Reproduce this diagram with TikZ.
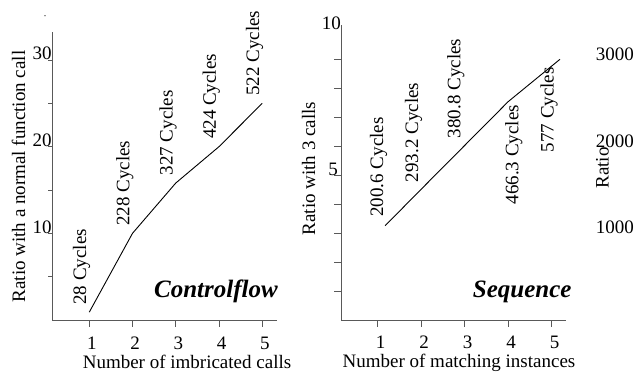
\documentclass[tikz,border=0pt]{standalone}
\usepackage{fontspec}
\setmainfont{Liberation Serif}
\usepackage{tikz}
\usetikzlibrary{positioning}
\definecolor{axisgray}{gray}{0.35}
\tikzstyle{axis} = [draw=axisgray, line width=0.8pt]
\tikzstyle{curve} = [draw, line width=0.9pt]
\tikzstyle{cyc} = [rotate=90, inner sep=0pt,
    font=\fontsize{19}{22}\selectfont]
\tikzstyle{numlbl} = [inner sep=0pt,
    font=\fontsize{19}{22}\selectfont]
\tikzstyle{plottitle} = [inner sep=0pt, anchor=base east,
    font=\fontsize{25}{30}\selectfont\bfseries\itshape]

\begin{document}
\begin{tikzpicture}[x=1pt, y=1pt]
    \useasboundingbox (0,0) rectangle (641,376);
    \fill (45,360.3) circle (0.6pt);

    % Controlflow plot
    \begin{scope}[shift={(46pt,56pt)}, x=43.25pt, y=8.667pt]
    \coordinate (lo) at (0.155,0);
    \coordinate (lp1) at (1,0.9);
    \coordinate (lp2) at (2,10);
    \coordinate (lp3) at (3,15.8);
    \coordinate (lp4) at (4,20);
    \coordinate (lp5) at (5,25);
    \path [axis] (0.155,33.2) -- (lo) -- (5.34,0);
    \foreach \n in {1,...,5}
        \path [axis] (\n,0) -- ++(0,-6.5pt);
    \foreach \v in {5,10,...,30}
        \path [axis] (0.155,\v) -- ++(-5pt,0);
    \foreach \n in {1,...,5}
        \node [numlbl, anchor=base] (lx\n) at ([shift={(2.7pt,-29pt)}]\n,0) {\n};
    \node [numlbl, anchor=base east] (ly10) at ([xshift=-1pt]0.155,10) {10};
    \node [numlbl, anchor=base east] (ly20) at ([xshift=-1pt]0.155,20) {20};
    \node [numlbl, anchor=base east] (ly30) at ([xshift=-1pt]0.155,30) {30};

    \path [curve] (lp1) -- (lp2) -- (lp3) -- (lp4) -- (lp5);
    \node [cyc, above right=7.5pt and 1.1pt of lp1] (lcyc1) {28 Cycles};
    \node [cyc, above right=7.5pt and 1.1pt of lp2] (lcyc2) {228 Cycles};
    \node [cyc, above right=7.5pt and 1.1pt of lp3] (lcyc3) {327 Cycles};
    \node [cyc, above right=7.5pt and 1.1pt of lp4] (lcyc4) {424 Cycles};
    \node [cyc, above right=7.5pt and 1.1pt of lp5] (lcyc5) {522 Cycles};
    \end{scope}
    \node [numlbl, anchor=base] (lblx1) at (187,8) {Number of imbricated calls};
    \node [numlbl, rotate=90, anchor=base] (lbly1) at (25,199.5) {Ratio with a normal function call};
    \node [plottitle] (ttl1) at (278,79) {Controlflow};

    % Sequence plot
    \begin{scope}[shift={(334.2pt,56pt)}, x=43.5pt, y=29pt]
    \coordinate (mo) at (0.172,0);
    \coordinate (mp1) at (1.17,3.25);
    \coordinate (mp2) at (2,4.51);
    \coordinate (mp3) at (3,6.02);
    \coordinate (mp4) at (4,7.53);
    \coordinate (mp5) at (5.19,8.99);
    \path [axis] (0.172,10.17) -- (mo) -- (5.32,0);
    \foreach \n in {1,...,5}
        \path [axis] (\n,0) -- ++(0,-6.5pt);
    \foreach \v in {1,...,9}
        \path [axis] (0.172,\v) -- ++(-8pt,0);
    \foreach \n in {1,...,5}
        \node [numlbl, anchor=base] (mx\n) at ([shift={(3pt,-28.5pt)}]\n,0) {\n};
    \node [numlbl, anchor=base east] (my5) at ([xshift=-3.7pt]0.172,5) {5};
    \node [numlbl, anchor=base east] (my10) at ([xshift=-0.5pt]0.172,10) {10};

    \path [curve] (mp1) -- (mp2) -- (mp3) -- (mp4) -- (mp5);
    \node [cyc, above right=9pt and 2.3pt of mp1] (mcyc1) {200.6 Cycles};
    \node [cyc, above right=7pt and 1.3pt of mp2] (mcyc2) {293.2 Cycles};
    \node [cyc, above right=7.2pt and 0pt of mp3] (mcyc3) {380.8 Cycles};
    \node [cyc, below right=3.3pt and 14.4pt of mp4, anchor=south east] (mcyc4) {466.3 Cycles};
    \node [cyc, below left=7.7pt and 2pt of mp5, anchor=south east] (mcyc5) {577 Cycles};
    \end{scope}
    \node [numlbl, anchor=base] (lblx2) at (459,9) {Number of matching instances};
    \node [numlbl, rotate=90, anchor=base] (lbly2) at (315,207.5) {Ratio with 3 calls};
    \node [plottitle] (ttl2) at (571.7,79) {Sequence};

    % right axis, cut off
    \node [numlbl, anchor=base east] (ry3) at (634,316) {3000};
    \node [numlbl, anchor=base east] (ry2) at (634,229) {2000};
    \node [numlbl, anchor=base east] (ry1) at (634,143) {1000};
    \node [numlbl, rotate=90, anchor=base] (lbly3) at (608.5,208) {Ratio};
\end{tikzpicture}
\end{document}
